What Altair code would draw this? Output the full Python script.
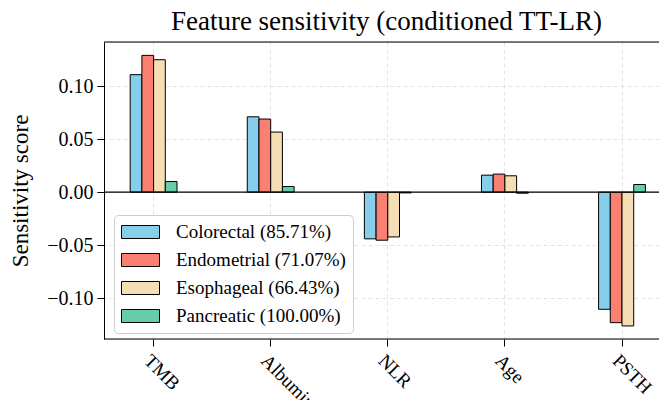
import altair as alt
import pandas as pd

features = ["TMB", "Albumin", "NLR", "Age", "PSTH"]
cancers = ["Colorectal (85.71%)", "Endometrial (71.07%)", "Esophageal (66.43%)", "Pancreatic (100.00%)"]
colorectal = [0.1107, 0.0710, -0.0440, 0.0160, -0.1104]
endometrial = [0.1289, 0.0689, -0.0453, 0.0170, -0.1230]
esophageal = [0.1248, 0.0566, -0.0422, 0.0154, -0.1261]
pancreatic = [0.0100, 0.0053, -0.0007, -0.0010, 0.0072]
colors = ["#87CEEB", "#FA8072", "#F5DEB3", "#66CDAA"]
y_ticks = [-0.10, -0.05, 0.0, 0.05, 0.10]

rows = []
for name, vals in zip(cancers, [colorectal, endometrial, esophageal, pancreatic]):
    for f, v in zip(features, vals):
        rows.append({"feature": f, "cancer": name, "value": v})
df = pd.DataFrame(rows)

FONT = "Liberation Serif"
W, H = 555, 297
ydom = [-0.1384, 0.1415]
STEP = 117.1
GROUP = 0.4 * STEP

bars = alt.Chart(df).mark_bar(stroke="black", strokeWidth=1).encode(
    x=alt.X("feature:N", sort=features,
            scale=alt.Scale(range=[-8.95, -8.95 + 5 * STEP], paddingInner=0, paddingOuter=0),
            axis=alt.Axis(title=None, labelAngle=45, labelAlign="left", labelBaseline="top",
                          labelFont=FONT, labelFontSize=19, labelColor="black",
                          labelPadding=5, tickColor="black", tickSize=7, tickWidth=1,
                          domain=False, grid=True, gridColor="#dddddd", gridDash=[4, 3],
                          gridWidth=0.8, bandPosition=0.5)),
    xOffset=alt.XOffset("cancer:N", sort=cancers,
                        scale=alt.Scale(range=[(STEP - GROUP) / 2, (STEP + GROUP) / 2],
                                        paddingInner=0, paddingOuter=0)),
    y=alt.Y("value:Q", scale=alt.Scale(domain=ydom, nice=False, zero=False),
            axis=alt.Axis(title="Sensitivity score", values=y_ticks, format=".2f",
                          labelFont=FONT, labelFontSize=20, labelColor="black",
                          titleFont=FONT, titleFontSize=23, titleFontWeight="normal",
                          titleColor="black", titlePadding=14,
                          labelPadding=4, tickColor="black", tickSize=7, tickWidth=1,
                          domainColor="black", domainWidth=1,
                          grid=True, gridColor="#dddddd", gridDash=[4, 3], gridWidth=0.8)),
    y2=alt.datum(0),
    color=alt.Color("cancer:N", sort=cancers,
                    scale=alt.Scale(domain=cancers, range=colors),
                    legend=alt.Legend(orient="none", legendX=10, legendY=173, title=None,
                                      symbolType="M-1,-0.684H3V0.684H-1Z", symbolSize=361,
                                      symbolStrokeColor="black", symbolStrokeWidth=1,
                                      symbolOpacity=1,
                                      labelFont=FONT, labelFontSize=19, labelColor="black",
                                      labelLimit=400,
                                      labelOffset=35, rowPadding=8, padding=7,
                                      fillColor="rgba(255,255,255,0.85)",
                                      strokeColor="#cccccc", cornerRadius=4)),
)

zero_df = pd.DataFrame({"y": [0.0]})
zero_line = alt.Chart(zero_df).mark_rule(color="black", strokeWidth=1.2).encode(
    y=alt.Y("y:Q", scale=alt.Scale(domain=ydom, nice=False, zero=False)),
    x=alt.value(0), x2=alt.value(W + 20),
)
top_line = alt.Chart(zero_df).mark_rule(color="black", strokeWidth=1.2).encode(
    y=alt.value(0), x=alt.value(0), x2=alt.value(W + 20),
)
bottom_line = alt.Chart(zero_df).mark_rule(color="black", strokeWidth=1.2).encode(
    y=alt.value(H), x=alt.value(0), x2=alt.value(W + 20),
)

chart = alt.layer(bars, zero_line, top_line, bottom_line).properties(
    width=W, height=H,
    autosize=alt.AutoSizeParams(type="none"),
    padding={"left": 96, "top": 34, "right": 0, "bottom": 61},
    title=alt.TitleParams("Feature sensitivity (conditioned TT-LR)", font=FONT,
                          fontSize=27, fontWeight="normal", color="black",
                          anchor="middle", dx=5, offset=5),
).configure_view(stroke=None).configure(background="white")

chart.save("out.html", embed_options={"renderer": "svg", "actions": False})
